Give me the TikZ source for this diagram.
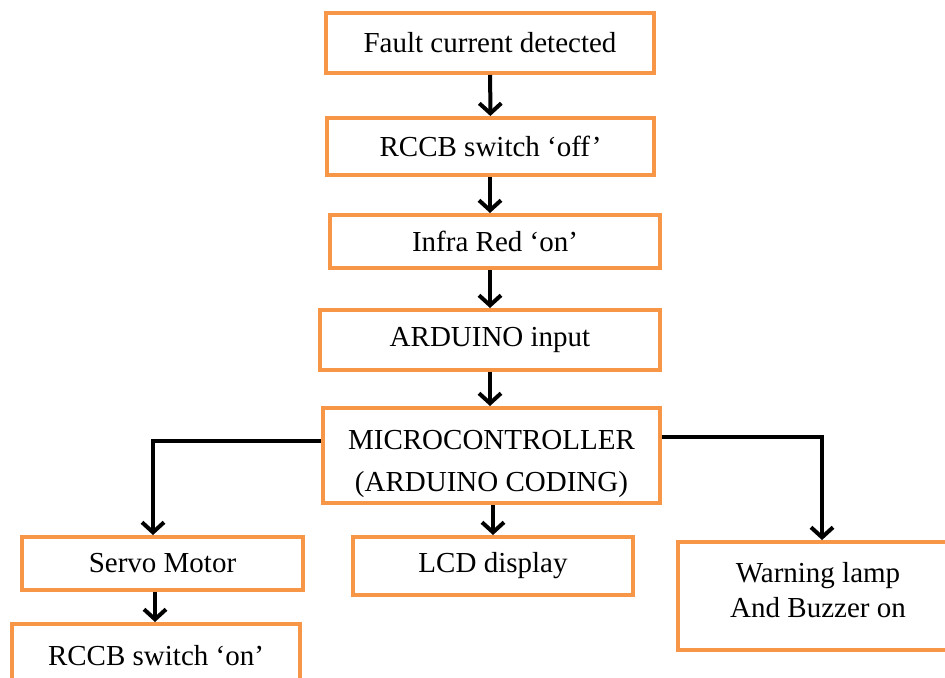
\documentclass[tikz,border=0pt]{standalone}
\usepackage{fontspec}
\setmainfont{Liberation Serif}
\usetikzlibrary{arrows.meta}
\definecolor{boxorange}{HTML}{F79646}

\begin{document}
\begin{tikzpicture}[x=0.5pt,y=-0.5pt,
  stage/.style={draw=boxorange,line width=2pt,fill=white,inner sep=0pt,align=center,
    font=\fontsize{14.5}{17.5}\selectfont},
  flow/.style={-{Straight Barb[length=5pt,width=11pt]},line width=2pt}]
\useasboundingbox (0,0) rectangle (945,678);
\clip (0,0) rectangle (945,678);

% main chain
\node[stage,minimum width=164pt,minimum height=30pt] (fault) at (490,43) {Fault current detected};
\node[stage,minimum width=163.5pt,minimum height=28.5pt] (rccboff) at (490.5,146.5) {RCCB switch `off'};
\node[stage,minimum width=165pt,minimum height=26.5pt] (infra) at (495,241.5) {Infra Red `on'};
\node[stage,minimum width=170pt,minimum height=30pt] (ardin) at (490,340) {ARDUINO input};
\node[stage,minimum width=168.5pt,minimum height=47.5pt] (micro) at (491.5,455.5) {\rule{0pt}{18pt}MICROCONTROLLER\\[3.5pt](ARDUINO CODING)};

% outputs
\node[stage,minimum width=140.5pt,minimum height=26.5pt] (servo) at (162.5,563.5) {Servo Motor};
\node[stage,minimum width=144pt,minimum height=32pt] (rccbon) at (156,656) {RCCB switch `on'};
\node[stage,minimum width=140pt,minimum height=29pt] (lcd) at (493,566) {LCD display};
\node[stage,minimum width=140pt,minimum height=54pt] (warn) at (818,596) {Warning lamp\\And Buzzer on\rule[-6.5pt]{0pt}{0pt}};

\draw[flow] (fault) -- (rccboff);
\draw[flow] (490,0 |- rccboff.south) -- (490,0 |- infra.north);
\draw[flow] (490,0 |- infra.south) -- (490,0 |- ardin.north);
\draw[flow] (ardin) -- (490,0 |- micro.north);
\draw[flow] (493,0 |- micro.south) -- (lcd);

\coordinate (lbend) at (153,441);
\coordinate (rbend) at (822,437);
\draw[flow] (micro.west |- lbend) -- (lbend) -- (lbend |- servo.north);
\draw[flow] (micro.east |- rbend) -- (rbend) -- (rbend |- warn.north);
\draw[flow] (155,0 |- servo.south) -- (155,0 |- rccbon.north);
\end{tikzpicture}
\end{document}
